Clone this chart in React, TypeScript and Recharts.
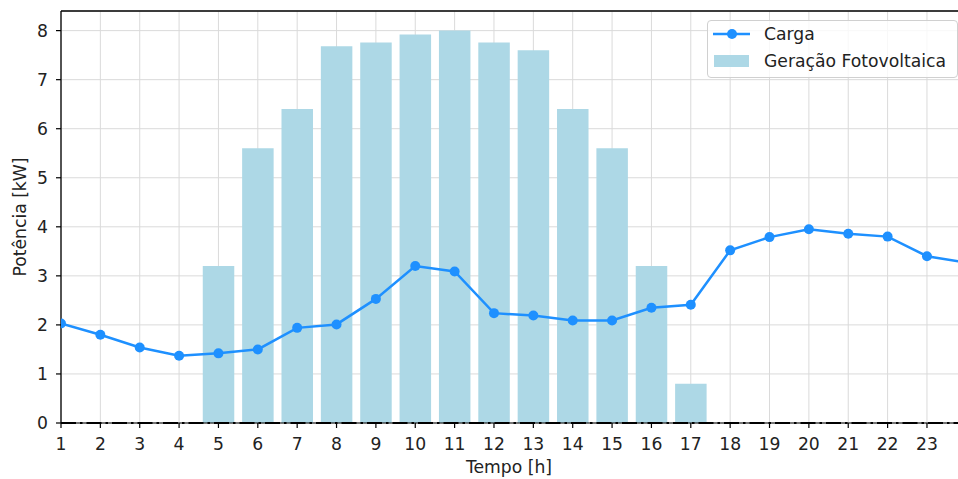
import {
  ComposedChart,
  CartesianGrid,
  XAxis,
  YAxis,
  Bar,
  Line,
  ReferenceLine
} from "recharts";

const HOURS = [1, 2, 3, 4, 5, 6, 7, 8, 9, 10, 11, 12, 13, 14, 15, 16, 17, 18, 19, 20, 21, 22, 23, 24];
const CARGA = [2.03, 1.8, 1.54, 1.37, 1.42, 1.5, 1.94, 2.01, 2.53, 3.2, 3.09, 2.24, 2.19, 2.09, 2.09, 2.35, 2.41, 3.52, 3.79, 3.95, 3.86, 3.8, 3.4, 3.27];
const GERACAO_PV = [null, null, null, null, 3.2, 5.6, 6.4, 7.68, 7.76, 7.92, 8.0, 7.76, 7.6, 6.4, 5.6, 3.2, 0.8, null, null, null, null, null, null, null];
const X_TICKS = [1, 2, 3, 4, 5, 6, 7, 8, 9, 10, 11, 12, 13, 14, 15, 16, 17, 18, 19, 20, 21, 22, 23];
const Y_TICKS = [0, 1, 2, 3, 4, 5, 6, 7, 8];

const FONT = "'DejaVu Sans', sans-serif";
const FS = 17.2;

const data = HOURS.map((h, i) => ({ hora: h, carga: CARGA[i], pv: GERACAO_PV[i] }));

// legenda desenhada à parte, no canto superior direito
const Legenda = () => (
  <div
    style={{
      position: "absolute",
      left: 707,
      top: 20,
      width: 251,
      height: 58,
      boxSizing: "border-box",
      border: "1px solid #d0d0d0",
      borderRadius: 4,
      background: "rgba(255,255,255,0.8)"
    }}
  >
    <svg width={251} height={58} style={{ position: "absolute", left: 0, top: 0 }}>
      <line x1={5} x2={42} y1={13} y2={13} stroke="#1e90ff" strokeWidth={2.5} />
      <circle cx={24} cy={13} r={5} fill="#1e90ff" />
      <rect x={6} y={34} width={35} height={12} fill="#add8e6" />
      <text x={56} y={13} dominantBaseline="central" fontFamily={FONT} fontSize={FS} fill="#222">
        Carga
      </text>
      <text x={56} y={40} dominantBaseline="central" fontFamily={FONT} fontSize={FS} fill="#222">
        Geração Fotovoltaica
      </text>
    </svg>
  </div>
);

export default function App() {
  return (
    <div style={{ position: "absolute", left: 0, top: 0, width: 958, height: 479, overflow: "hidden", background: "#fff" }}>
      <ComposedChart
        width={962}
        height={479}
        data={data}
        margin={{ top: 11, right: 0, bottom: 0, left: 0 }}
      >
        <CartesianGrid stroke="#dadada" strokeWidth={1} />
        <XAxis
          dataKey="hora"
          type="number"
          domain={[1, 23.89]}
          allowDataOverflow
          ticks={X_TICKS}
          interval={0}
          height={56}
          tickSize={5}
          tickMargin={10}
          axisLine={false}
          tickLine={{ stroke: "#000", strokeWidth: 1.2 }}
          tick={{ fill: "#222", fontSize: FS, fontFamily: FONT }}
          label={{
            content: () => (
              <text x={509} y={467} textAnchor="middle" dominantBaseline="central" fontFamily={FONT} fontSize={FS} fill="#222">
                Tempo [h]
              </text>
            )
          }}
        />
        <YAxis
          type="number"
          domain={[0, 8.4]}
          allowDataOverflow
          ticks={Y_TICKS}
          interval={0}
          width={61}
          tickSize={5}
          tickMargin={8}
          axisLine={{ stroke: "#000", strokeWidth: 1.3 }}
          tickLine={{ stroke: "#000", strokeWidth: 1.2 }}
          tick={{ fill: "#222", fontSize: FS, fontFamily: FONT }}
          label={{
            content: () => (
              <text
                x={20}
                y={217}
                transform="rotate(-90, 20, 217)"
                textAnchor="middle"
                dominantBaseline="central"
                fontFamily={FONT}
                fontSize={FS}
                fill="#222"
              >
                Potência [kW]
              </text>
            )
          }}
        />
        <Bar dataKey="pv" fill="#add8e6" barSize={31.5} isAnimationActive={false} />
        <Line
          dataKey="carga"
          stroke="#1e90ff"
          strokeWidth={2.5}
          dot={{ r: 5, fill: "#1e90ff", stroke: "#1e90ff", strokeWidth: 0 }}
          activeDot={false}
          isAnimationActive={false}
        />
        <ReferenceLine y={8.4} stroke="#000" strokeWidth={1.3} />
        <ReferenceLine y={0} stroke="#000" strokeWidth={1.2} />
        <ReferenceLine y={0} stroke="#000" strokeWidth={2.2} strokeDasharray="15 4 2.5 4" />
      </ComposedChart>
      <Legenda />
    </div>
  );
}
